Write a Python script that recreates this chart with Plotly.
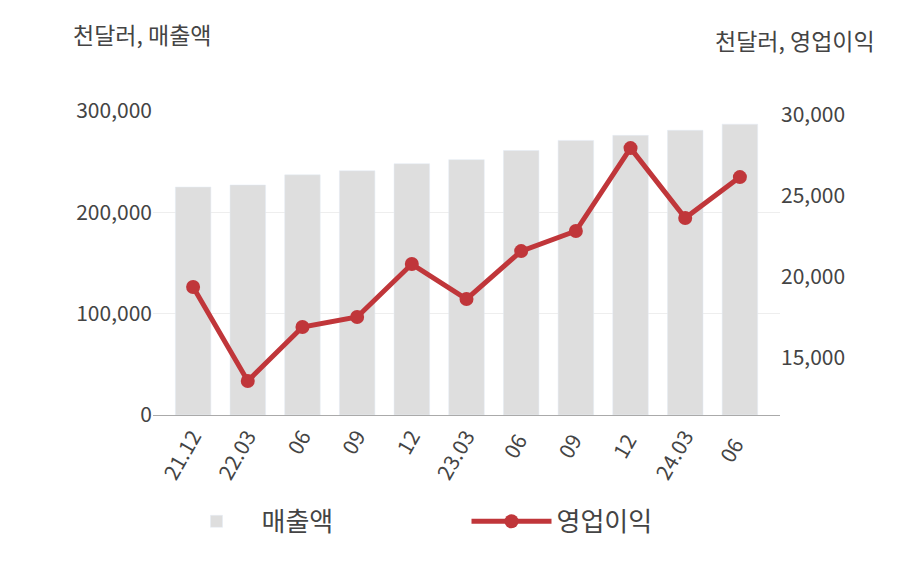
import plotly.graph_objects as go

categories = ["21.12", "22.03", "06", "09", "12", "23.03", "06 ", "09 ", "12 ", "24.03", "06  "]
sales = [225000, 227000, 237000, 241000, 248000, 252000, 261000, 271000, 276000, 281000, 287000]
op_income = [19380, 13580, 16910, 17530, 20800, 18640, 21600, 22840, 27960, 23640, 26170]

font = "Noto Sans CJK KR"
fig = go.Figure()
fig.add_trace(go.Bar(x=categories, y=sales, name="매출액", marker_color="#dedede", width=0.65, yaxis="y"))
fig.add_trace(go.Scatter(x=categories, y=op_income, name="영업이익", mode="lines+markers",
                         line=dict(color="#c0363a", width=5), marker=dict(size=14, color="#c0363a"), yaxis="y2"))
fig.update_layout(
    width=908, height=580, plot_bgcolor="white", paper_bgcolor="white",
    margin=dict(l=145, r=136, t=103, b=173, autoexpand=False),
    font=dict(family=font, size=21, color="#444"),
    xaxis=dict(tickangle=-60, showline=True, linecolor="#aaa", ticks="", automargin=False),
    yaxis=dict(range=[0, 300000], tickvals=[0, 100000, 200000, 300000], tickformat=",",
               gridcolor="#eee", zeroline=False, showline=False, automargin=False),
    yaxis2=dict(overlaying="y", side="right", range=[11480, 30250], automargin=False,
                tickvals=[15000, 20000, 25000, 30000], tickformat=",", showgrid=False, zeroline=False),
    legend=dict(orientation="h", x=0.5, xanchor="center", y=-0.35, yanchor="middle",
                font=dict(size=26), itemwidth=80, entrywidth=200),
    annotations=[
        dict(text="천달러, 매출액", xref="paper", yref="paper", x=-0.13, y=1.19, xanchor="left", yanchor="bottom",
             showarrow=False, font=dict(size=23, color="#444")),
        dict(text="천달러, 영업이익", xref="paper", yref="paper", x=1.155, y=1.17, xanchor="right", yanchor="bottom",
             showarrow=False, font=dict(size=23, color="#444")),
    ],
)
fig.write_html("out.html")
